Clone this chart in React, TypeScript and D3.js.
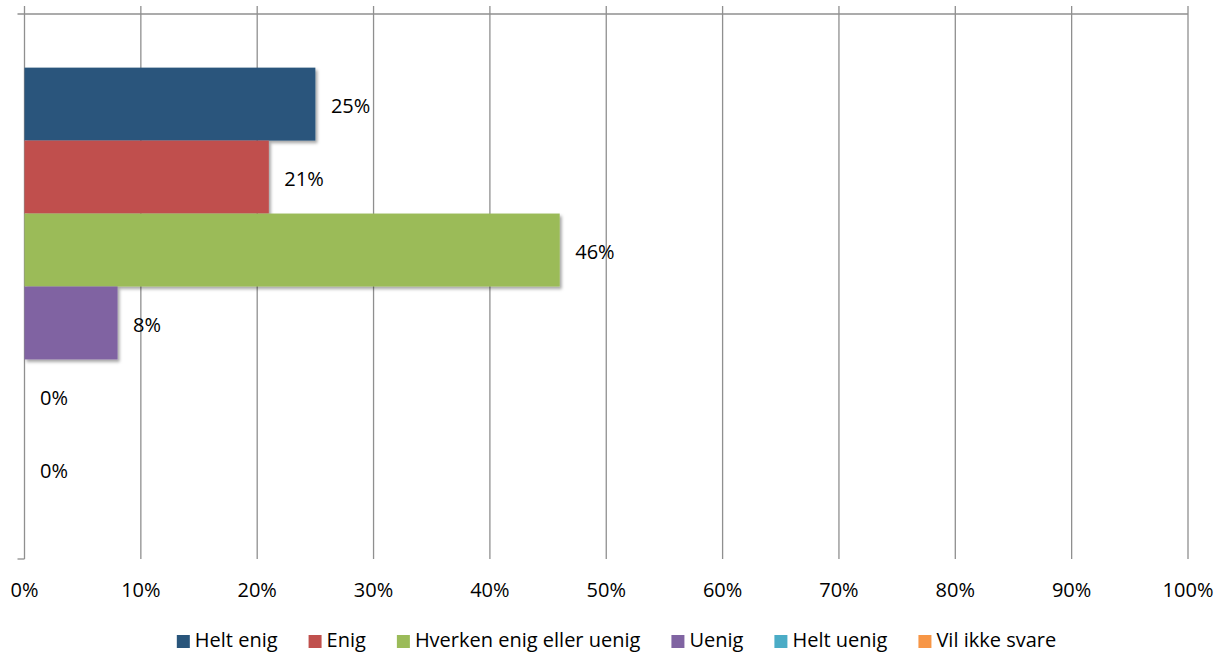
import React, { useEffect, useRef } from "react";
import * as d3 from "d3";

const seriesNames = ["Helt enig", "Enig", "Hverken enig eller uenig", "Uenig", "Helt uenig", "Vil ikke svare"];
const seriesValues = [25, 21, 46, 8, 0, 0];
const seriesColors = ["#29557B", "#C0504D", "#9BBB59", "#8064A2", "#4BACC6", "#F79646"];
const xTicks = [0, 10, 20, 30, 40, 50, 60, 70, 80, 90, 100];

const W = 1221;
const H = 661;
const FONT = "'Open Sans', 'Noto Sans', sans-serif";
const FS = 20;

export default function App() {
  const ref = useRef<SVGSVGElement>(null);
  useEffect(() => {
    const svg = d3.select(ref.current);
    svg.selectAll("*").remove();
    const left = 24.5, right = 1188, top = 14, bottom = 559;
    const x = d3.scaleLinear().domain([0, 100]).range([left, right]);
    const band = d3.scaleBand().domain(["cat"]).range([top, bottom]).paddingInner(0).paddingOuter(0);
    const groupH = band.bandwidth();
    const barH = groupH / (seriesNames.length + 1.47);
    const gapTop = (groupH - barH * seriesNames.length) / 2;
    const y = d3.scaleBand().domain(seriesNames).range([top + gapTop, top + gapTop + barH * seriesNames.length]).padding(0);

    const defs = svg.append("defs");
    const f = defs.append("filter").attr("id", "sh").attr("x", "-5%").attr("y", "-20%").attr("width", "115%").attr("height", "150%");
    f.append("feDropShadow").attr("dx", 2).attr("dy", 2.5).attr("stdDeviation", 1.8).attr("flood-color", "#000").attr("flood-opacity", 0.35);

    const grid = "#8f8f8f";
    svg.append("g").selectAll("line").data(xTicks).join("line")
      .attr("x1", d => x(d)).attr("x2", d => x(d))
      .attr("y1", top - 8).attr("y2", bottom)
      .attr("stroke", grid).attr("stroke-width", 1.3);
    svg.append("line").attr("x1", left - 7).attr("x2", right).attr("y1", top).attr("y2", top)
      .attr("stroke", grid).attr("stroke-width", 1.3);
    svg.append("line").attr("x1", left - 7).attr("x2", left).attr("y1", bottom).attr("y2", bottom)
      .attr("stroke", grid).attr("stroke-width", 1.3);

    svg.append("g").selectAll("rect").data(seriesNames).join("rect")
      .attr("x", left)
      .attr("y", d => y(d)!)
      .attr("width", (d, i) => x(seriesValues[i]) - left)
      .attr("height", y.bandwidth())
      .attr("fill", (d, i) => seriesColors[i])
      .attr("filter", (d, i) => (seriesValues[i] > 0 ? "url(#sh)" : null));

    svg.append("g").selectAll("text").data(seriesNames).join("text")
      .attr("x", (d, i) => x(seriesValues[i]) + 15.5)
      .attr("y", d => y(d)! + y.bandwidth() / 2 + 4)
      .attr("dominant-baseline", "middle")
      .attr("font-family", FONT).attr("font-size", FS).attr("fill", "#000")
      .text((d, i) => `${seriesValues[i]}%`);

    svg.append("g").selectAll("text").data(xTicks).join("text")
      .attr("x", d => x(d)).attr("y", 592)
      .attr("text-anchor", "middle").attr("dominant-baseline", "middle")
      .attr("font-family", FONT).attr("font-size", FS).attr("fill", "#000")
      .text(d => `${d}%`);

    const lg = svg.append("g");
    const items = lg.selectAll("g").data(seriesNames).join("g");
    items.append("rect").attr("width", 13).attr("height", 13).attr("y", -6)
      .attr("fill", (d, i) => seriesColors[i]);
    const texts = items.append("text").attr("x", 18).attr("y", 1).attr("dominant-baseline", "middle")
      .attr("font-family", FONT).attr("font-size", FS).attr("fill", "#000").text(d => d);
    const widths: number[] = [];
    texts.each(function () { widths.push((this as SVGTextElement).getComputedTextLength()); });
    const gap = 31;
    const itemW = widths.map(w => 18 + w);
    const total = d3.sum(itemW) + gap * (itemW.length - 1);
    let cx = 173 + (887 - total) / 2;
    items.attr("transform", (d, i) => {
      const t = `translate(${cx},641)`;
      cx += itemW[i] + gap;
      return t;
    });
  }, []);
  return <svg ref={ref} width={W} height={H} style={{ display: "block", position: "absolute", left: 0, top: 0 }} />;
}
